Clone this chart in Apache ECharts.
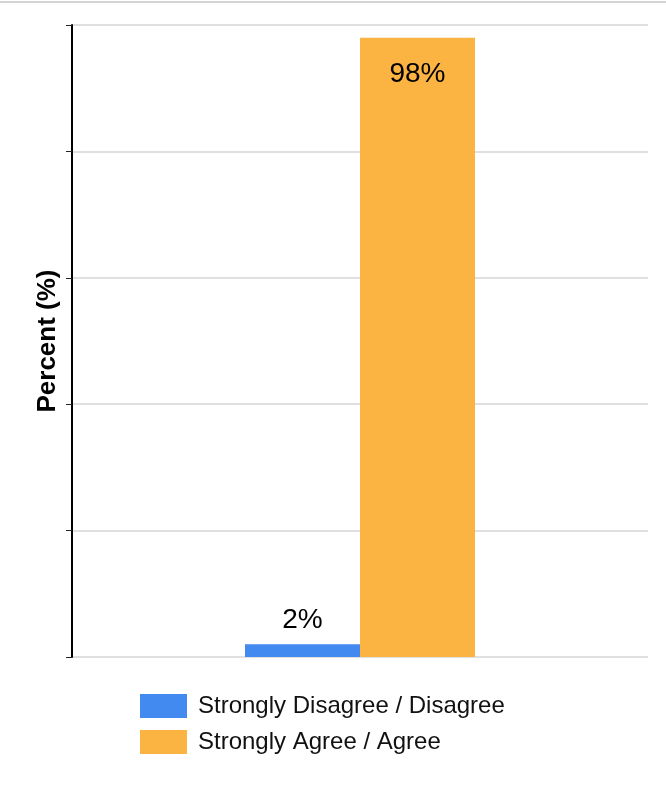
<!DOCTYPE html>
<html><head><meta charset="utf-8">
<script src="https://cdn.jsdelivr.net/npm/echarts@6/dist/echarts.min.js"></script>
<style>html,body{margin:0;padding:0;background:#fff}#c{width:666px;height:792px}</style>
</head><body><div id="c"></div>
<script>
const categories = [''];
const seriesNames = ['Strongly Disagree / Disagree', 'Strongly Agree / Agree'];
const disagreeValues = [2];
const agreeValues = [98];
const yTicks = [0, 20, 40, 60, 80, 100];

const chart = echarts.init(document.getElementById('c'), null, {renderer: 'canvas'});
const font = 'Arial, "Liberation Sans", sans-serif';
chart.setOption({
  animation: false,
  textStyle: {fontFamily: font},
  graphic: [{type: 'rect', shape: {x: 0, y: 1, width: 666, height: 2}, style: {fill: '#d4d4d4'}}],
  grid: {left: 72, right: 18, top: 25, bottom: 135, containLabel: false},
  xAxis: {
    type: 'category', data: categories,
    axisLine: {show: false}, axisTick: {show: false}, axisLabel: {show: false}
  },
  yAxis: {
    type: 'value', min: yTicks[0], max: yTicks[yTicks.length - 1], interval: 20,
    name: 'Percent (%)', nameLocation: 'middle', nameGap: 11,
    nameTextStyle: {fontSize: 26, fontWeight: 'bold', color: '#000', fontFamily: font},
    axisLine: {show: true, lineStyle: {color: '#000', width: 2}},
    axisTick: {show: true, length: 6, lineStyle: {color: '#222', width: 1}},
    axisLabel: {show: false},
    splitLine: {show: true, lineStyle: {color: '#e0e0e0', width: 2}}
  },
  legend: {
    orient: 'vertical', left: 135, top: 689, itemWidth: 47, itemHeight: 24, itemGap: 12,
    icon: 'rect', data: seriesNames,
    textStyle: {fontSize: 24, lineHeight: 24, color: '#111', fontFamily: font, padding: [0, 0, 0, 6]}
  },
  series: [
    {name: seriesNames[0], type: 'bar', data: disagreeValues, barWidth: 115, barGap: '0%',
     itemStyle: {color: '#4289F0'},
     label: {show: true, position: 'top', distance: 10, formatter: '{c}%', fontSize: 28, color: '#000', fontFamily: font}},
    {name: seriesNames[1], type: 'bar', data: agreeValues, barWidth: 115, barGap: '0%',
     itemStyle: {color: '#FBB442'},
     label: {show: true, position: 'insideTop', distance: 23, formatter: '{c}%', fontSize: 28, color: '#000', fontFamily: font}}
  ]
});
</script></body></html>
